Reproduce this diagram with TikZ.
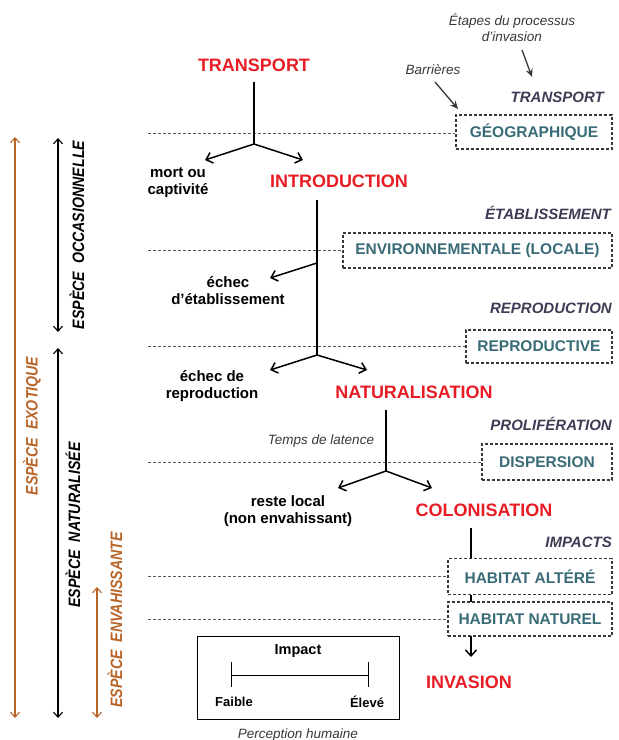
\documentclass[tikz,border=0pt]{standalone}
\usepackage{fontspec}
\setmainfont{Liberation Sans}
\newfontfamily\narrowsans{Liberation Sans}[FakeStretch=0.86]
\usetikzlibrary{arrows.meta}
\definecolor{redlab}{RGB}{232,28,36}
\definecolor{tealtxt}{RGB}{58,108,120}
\definecolor{stagecol}{RGB}{64,58,84}
\definecolor{orng}{RGB}{184,100,40}
\definecolor{dgray}{RGB}{55,55,55}
\tikzset{
 redlabel/.style={text=redlab, font=\fontsize{18}{20}\selectfont\bfseries, inner sep=0},
 blk/.style={font=\fontsize{15}{17}\selectfont\bfseries, align=center, inner sep=0},
 stagelab/.style={text=stagecol, font=\fontsize{15}{17}\selectfont\bfseries\itshape, inner sep=0, anchor=east},
 barrier/.style={draw=dgray, dash pattern=on 3pt off 2pt, line width=1.1pt, fill=white, text=tealtxt, font=\fontsize{15.5}{17}\selectfont\bfseries, inner sep=0},
 note/.style={text=dgray, font=\fontsize{13.5}{16}\selectfont\itshape, inner sep=0, align=center},
 notearrow/.style={line width=1.3pt, dgray, -{Stealth[length=8pt,width=7pt]}},
 flow/.style={line width=1.9pt, black},
 branch/.style={line width=1.5pt, -{Straight Barb[length=6pt,width=11pt,line width=1.5pt]}},
 levelline/.style={draw=gray!70!black, dash pattern=on 3pt off 2pt, line width=0.8pt},
 spanarrow/.style={line width=1.1pt, {Straight Barb[length=5pt,width=9pt]}-{Straight Barb[length=5pt,width=9pt]}},
 vlab/.style={rotate=90, font=\narrowsans\fontsize{16.5}{18}\selectfont\bfseries\itshape, inner sep=0},
 smallbold/.style={font=\fontsize{13}{15}\selectfont\bfseries, inner sep=0},
}
\begin{document}
\begin{tikzpicture}[x=1pt,y=-1pt]
\useasboundingbox (0,0) rectangle (619,740);

% left spans
\coordinate (ex1) at (15,137); \coordinate (ex2) at (15,718);
\draw[spanarrow, orng] (ex1) -- (ex2);
\node[vlab, text=orng] (exo) at (32,426) {ESPÈCE\ \ EXOTIQUE};
\coordinate (oc1) at (58,138); \coordinate (oc2) at (58,332);
\draw[spanarrow] (oc1) -- (oc2);
\node[vlab] (occ) at (77,235) {ESPÈCE\ \ OCCASIONNELLE};
\coordinate (na1) at (58,348); \coordinate (na2) at (58,718);
\draw[spanarrow] (na1) -- (na2);
\node[vlab] (natsp) at (73,525) {ESPÈCE\ \ NATURALISÉE};
\coordinate (en1) at (97,587); \coordinate (en2) at (97,718);
\draw[spanarrow, orng] (en1) -- (en2);
\node[vlab, text=orng] (env) at (115,620) {ESPÈCE\ \ ENVAHISSANTE};

% level lines
\coordinate (l1) at (148,133);
\coordinate (l2) at (148,250.5);
\coordinate (l3) at (148,346);
\coordinate (l4) at (148,462);
\coordinate (l5) at (148,576.5);
\coordinate (l6) at (148,619);

% flow line through the impact barriers (drawn before boxes)
\coordinate (c0) at (471,528); \coordinate (c1) at (471,657);
\draw[flow, -{Straight Barb[length=6pt,width=11pt,line width=1.5pt]}] (c0) -- (c1);

% barrier boxes
\node[barrier, minimum width=156pt, minimum height=34pt] (geo) at (534,132) {GÉOGRAPHIQUE};
\node[barrier, minimum width=269pt, minimum height=35pt] (envb) at (477.5,250.5) {ENVIRONNEMENTALE (LOCALE)};
\node[barrier, minimum width=146pt, minimum height=33pt] (repb) at (539,346.5) {REPRODUCTIVE};
\node[barrier, minimum width=130pt, minimum height=36pt] (disp) at (547,462) {DISPERSION};
\node[barrier, minimum width=164pt, minimum height=36pt] (halt) at (530,576.5) {HABITAT ALTÉRÉ};
\node[barrier, minimum width=164pt, minimum height=34pt] (hnat) at (530,619) {HABITAT NATUREL};

\draw[levelline] (l1) -- (l1 -| geo.west);
\draw[levelline] (l2) -- (l2 -| envb.west);
\draw[levelline] (l3) -- (l3 -| repb.west);
\draw[levelline] (l4) -- (l4 -| disp.west);
\draw[levelline] (l5) -- (l5 -| halt.west);
\draw[levelline] (l6) -- (l6 -| hnat.west);

% red stage labels
\node[redlabel] (tr) at (254,65) {TRANSPORT};
\node[redlabel] (intro) at (339,181) {INTRODUCTION};
\node[redlabel] (nat) at (414,392) {NATURALISATION};
\node[redlabel] (col) at (484,510) {COLONISATION};
\node[redlabel] (inv) at (469,682) {INVASION};

% outcome labels
\node[blk] (mort) at (178,183) {mort ou\\captivité};
\node[blk] (echE) at (228,291) {échec\\d'établissement};
\node[blk] (echR) at (212,386) {échec de\\reproduction};
\node[blk] (reste) at (288,511) {reste local\\(non envahissant)};

% stage names on the right
\node[stagelab] (sTr) at (604,97) {TRANSPORT};
\node[stagelab] (sEt) at (611,213) {ÉTABLISSEMENT};
\node[stagelab] (sRe) at (612,308) {REPRODUCTION};
\node[stagelab] (sPr) at (612,424) {PROLIFÉRATION};
\node[stagelab] (sIm) at (612,542) {IMPACTS};

% notes
\node[note] (etapes) at (512,28) {Étapes du processus\\d'invasion};
\node[note] (barr) at (433,70) {Barrières};
\node[note] (latence) at (321,441) {Temps de latence};
\node[note] (percep) at (298,735) {Perception humaine};
\coordinate (e1) at (522,50); \coordinate (e2) at (532,77);
\draw[notearrow] (e1) -- (e2);
\coordinate (b1) at (435,82); \coordinate (b2) at (458,109);
\draw[notearrow] (b1) -- (b2);

% transport
\coordinate (t0) at (254,82); \coordinate (t1) at (254,144);
\coordinate (t2) at (205,160); \coordinate (t3) at (303,160);
\draw[flow] (t0) -- (t1);
\draw[branch] (t1) -- (t2);
\draw[branch] (t1) -- (t3);
% introduction
\coordinate (i0) at (317,200); \coordinate (i1) at (317,263); \coordinate (i2) at (317,355);
\coordinate (i3) at (270,278); \coordinate (i4) at (270,370); \coordinate (i5) at (367,370);
\draw[flow] (i0) -- (i2);
\draw[branch] (i1) -- (i3);
\draw[branch] (i2) -- (i4);
\draw[branch] (i2) -- (i5);
% naturalisation
\coordinate (n0) at (386,410); \coordinate (n1) at (386,471);
\coordinate (n2) at (338,488); \coordinate (n3) at (432,488);
\draw[flow] (n0) -- (n1);
\draw[branch] (n1) -- (n2);
\draw[branch] (n1) -- (n3);

% impact legend
\node[draw, line width=1pt, minimum width=202pt, minimum height=83pt, inner sep=0] (ibox) at (298,677.5) {};
\node[font=\fontsize{14.5}{17}\selectfont\bfseries, inner sep=0] (imp) at (298,651) {Impact};
\coordinate (s1) at (231,675); \coordinate (s2) at (368,675);
\draw[line width=1pt] (s1) -- (s2);
\draw[line width=1pt] (s1) ++(0,-13) -- ++(0,25);
\draw[line width=1pt] (s2) ++(0,-13) -- ++(0,25);
\node[smallbold] (faible) at (234,702) {Faible};
\node[smallbold] (eleve) at (367,702) {Élevé};
\end{tikzpicture}
\end{document}
